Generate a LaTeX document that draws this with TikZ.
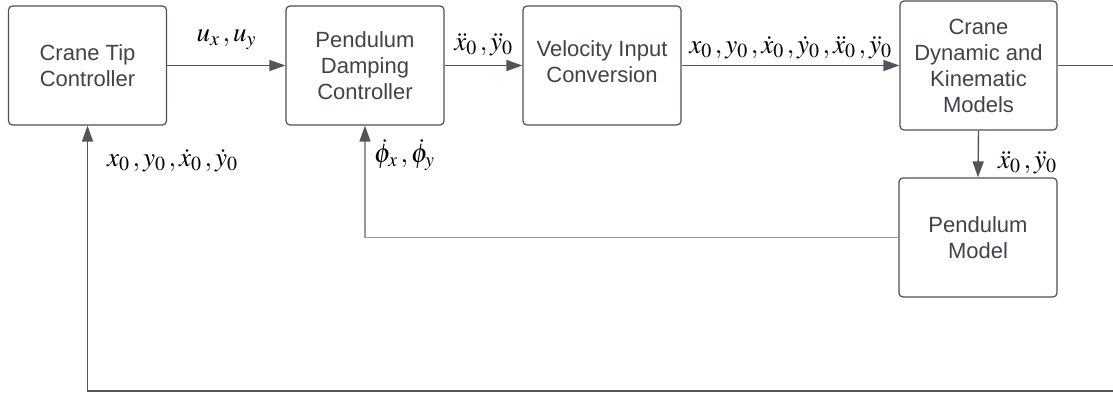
\documentclass[tikz,border=0pt]{standalone}
\usepackage{amsmath, amssymb}
\usepackage{mathptmx}
\usepackage{fontspec}
\setsansfont{Liberation Sans}
\usepackage{tikz}
\usetikzlibrary{arrows.meta}

\definecolor{boxline}{RGB}{76,81,89}
\definecolor{boxtext}{RGB}{62,68,76}
\definecolor{wire}{RGB}{80,85,92}
\definecolor{wirelight}{RGB}{150,154,158}

\newcommand{\sep}{\,,}

\tikzset{
  block/.style={draw=boxline, line width=1.2pt, rounded corners=4pt, align=center,
    text=boxtext, font=\sffamily\fontsize{22}{26}\selectfont,
    minimum width=158pt, minimum height=119pt, inner sep=2pt},
  sig/.style={draw=wire, line width=1.4pt, -{Triangle[length=16pt,width=11pt,color=wire]}},
  lab/.style={font=\fontsize{27}{30}\selectfont, inner sep=2pt}
}

\begin{document}
\begin{tikzpicture}[x=1pt, y=-1pt]
\clip (0,0) rectangle (1113,396);
\fill[white] (0,0) rectangle (1113,396);
% blocks
\node[block] (tip) at (87.5,65.5) {Crane Tip\\Controller};
\node[block] (pdc) at (365,65.5) {Pendulum\\Damping\\Controller};
\node[block, text depth=8pt] (vic) at (602,65.5) {Velocity Input\\Conversion};
\node[block, minimum width=157pt, minimum height=129pt] (crane) at (978.5,65.5) {Crane\\Dynamic and\\Kinematic\\Models};
\node[block] (pend) at (978,237.5) {Pendulum\\Model};
% forward path
\draw[sig] (tip.east) -- (pdc.west) node[lab, midway, anchor=base, yshift=24pt] (ulab) {$u_x\sep u_y$};
\draw[sig] (pdc.east) -- (vic.west) node[lab, midway, anchor=base, yshift=15pt] (alab) {$\ddot{x}_0\sep \ddot{y}_0$};
\draw[sig] (vic.east) -- (crane.west) node[lab, midway, anchor=base, yshift=12pt] (slab) {$x_0\sep y_0\sep \dot{x}_0\sep \dot{y}_0\sep \ddot{x}_0\sep \ddot{y}_0$};
\draw[sig] (crane.south) -- (pend.north);
\node[lab, anchor=base west] (plab) at (996,168) {$\ddot{x}_0\sep \ddot{y}_0$};
% feedback
\draw[sig, draw=wirelight] (pend.west) -| (pdc.south);
\node[lab, anchor=base west] (philab) at (372,162) {$\dot{\phi}_x\sep \dot{\phi}_y$};
\coordinate (fbr) at (1130,65.5);
\coordinate (fbb) at (1130,391);
\draw[sig] (crane.east) -- (fbr) -- (fbb) -| (tip.south);
\node[lab, anchor=base west] (fblab) at (105,166) {$x_0\sep y_0\sep \dot{x}_0\sep \dot{y}_0$};
\end{tikzpicture}
\end{document}
